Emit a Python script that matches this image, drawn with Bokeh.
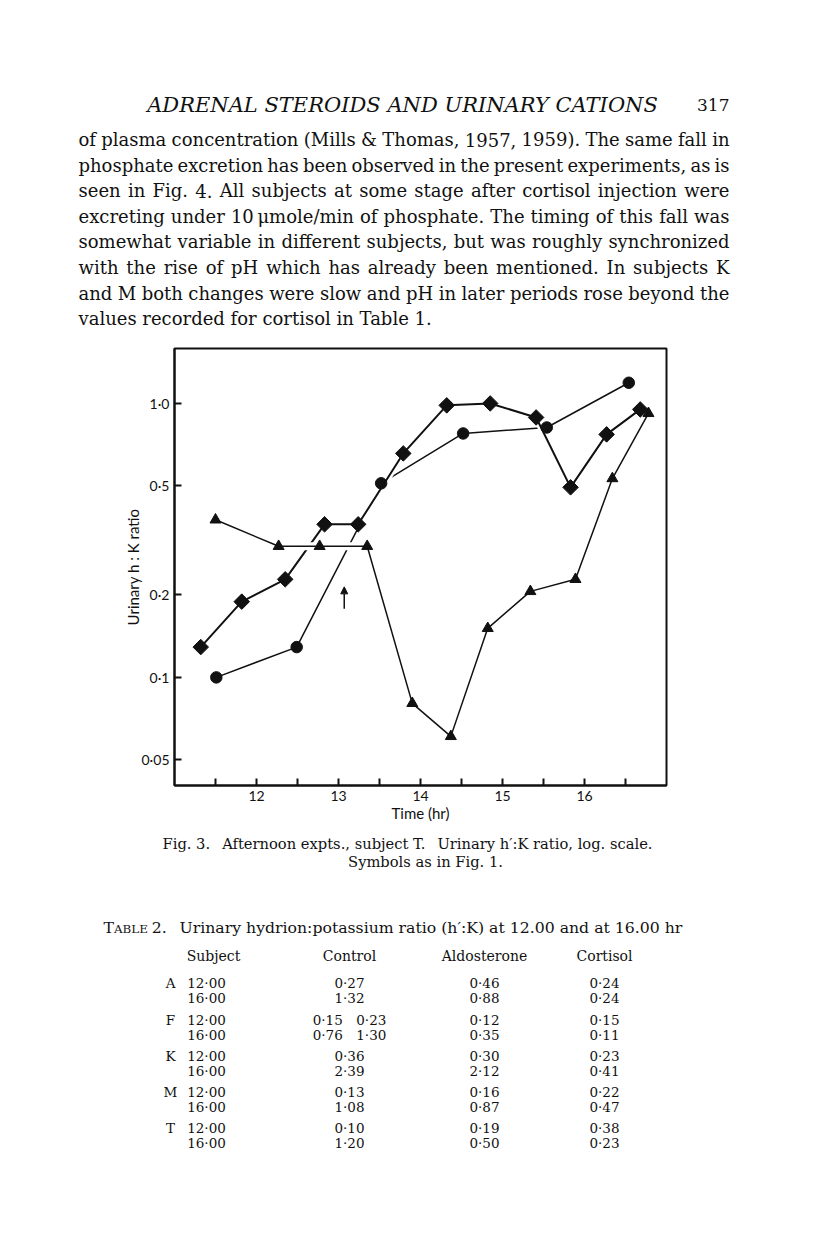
import math
from bokeh.plotting import figure
from bokeh.layouts import column
from bokeh.models import (Range1d, FixedTicker, Label, LabelSet, ColumnDataSource,
                          Arrow, NormalHead)
from bokeh.core.properties import value
from bokeh.embed import file_html
from bokeh.resources import INLINE

# ---------------- data ----------------
control_time = [11.51, 12.49, 13.52, 14.52, 15.54, 16.54]
control_ratio = [0.10, 0.129, 0.511, 0.777, 0.817, 1.19]

aldo_time = [11.32, 11.82, 12.35, 12.83, 13.24, 13.79, 14.32, 14.85, 15.41, 15.83, 16.27, 16.68]
aldo_ratio = [0.129, 0.189, 0.228, 0.362, 0.362, 0.657, 0.984, 1.0, 0.889, 0.494, 0.771, 0.951]

cort_time = [11.50, 12.27, 12.77, 13.35, 13.90, 14.37, 14.82, 15.34, 15.89, 16.34, 16.78]
cort_ratio = [0.376, 0.301, 0.301, 0.301, 0.0804, 0.0609, 0.151, 0.206, 0.228, 0.532, 0.92]

arrow_time = 13.07
arrow_ratio = [0.178, 0.214]

x_ticks = [11.5, 12, 12.5, 13, 13.5, 14, 14.5, 15, 15.5, 16, 16.5]
x_tick_labels = ["", "12", "", "13", "", "14", "", "15", "", "16", ""]
y_ticks = [0.05, 0.1, 0.2, 0.5, 1]
y_tick_labels = ["0·05", "0·1", "0·2", "0·5", "1·0"]

header_title = "ADRENAL STEROIDS AND URINARY CATIONS"
page_number = "317"
paragraph = [
    "of plasma concentration (Mills & Thomas, 1957, 1959). The same fall in",
    "phosphate excretion has been observed in the present experiments, as is",
    "seen in Fig. 4. All subjects at some stage after cortisol injection were",
    "excreting under 10\u2009μmole/min of phosphate. The timing of this fall was",
    "somewhat variable in different subjects, but was roughly synchronized",
    "with the rise of pH which has already been mentioned. In subjects K",
    "and M both changes were slow and pH in later periods rose beyond the",
    "values recorded for cortisol in Table 1.",
]
caption = ["Fig. 3.\u2002 Afternoon expts., subject T.\u2002 Urinary h\u2032:K ratio, log. scale.",
           "Symbols as in Fig. 1."]
table_title_rest = "2.\u2002 Urinary hydrion:potassium ratio (h\u2032:K) at 12.00 and at 16.00 hr"
table_headers = ["Subject", "Control", "Aldosterone", "Cortisol"]
subjects = ["A", "F", "K", "M", "T"]
times = ["12·00", "16·00"]
control_12 = ["0·27", "0·15\u20030·23", "0·36", "0·13", "0·10"]
control_16 = ["1·32", "0·76\u20031·30", "2·39", "1·08", "1·20"]
aldo_12 = ["0·46", "0·12", "0·30", "0·16", "0·19"]
aldo_16 = ["0·88", "0·35", "2·12", "0·87", "0·50"]
cort_12 = ["0·24", "0·15", "0·23", "0·22", "0·38"]
cort_16 = ["0·24", "0·11", "0·41", "0·47", "0·23"]

# ---------------- layout / style ----------------
INK = "#111111"
SERIF = "DejaVu Serif"
SANS = "Lato"
PAGE_W, PAGE_H = 816, 1258
FRAME_L, FRAME_R, FRAME_T, FRAME_B = 174, 666, 348, 785
TOP_H = 340          # text block above the chart
CHART_H = 490        # chart figure (page y 340 .. 830)
BOT_H = PAGE_H - TOP_H - CHART_H
TEXT_L, TEXT_R = 78, 729

# text width measurement (for justification / fitting)
try:
    from PIL import ImageFont
    _fonts = {False: ImageFont.truetype("DejaVuSerif.ttf", 100),
              True: ImageFont.truetype("DejaVuSerif-Italic.ttf", 100)}

    def measure(s, size, italic=False):
        return _fonts[italic].getlength(s) * size / 100.0
except Exception:
    def measure(s, size, italic=False):
        return 0.56 * size * len(s)


def text_figure(h):
    f = figure(width=PAGE_W, height=h, x_range=Range1d(0, PAGE_W), y_range=Range1d(-h, 0),
               output_backend="svg", toolbar_location=None,
               x_axis_location=None, y_axis_location=None,
               min_border=0, min_border_left=0, min_border_right=0,
               min_border_top=0, min_border_bottom=0)
    f.frame_align = False
    f.xgrid.visible = False
    f.ygrid.visible = False
    f.outline_line_color = None
    f.background_fill_color = "white"
    f.border_fill_color = "white"
    return f


def lab(f, offset, text, x, y, size, font=SERIF, align="left", style="normal",
        baseline="middle"):
    f.add_layout(Label(x=x, y=-(y - offset), text=text,
                       text_font=font, text_font_size=f"{size:.2f}px",
                       text_font_style=style, text_color=INK, text_align=align,
                       text_baseline=baseline))


# ---- top block: running head + justified paragraph ----
top = text_figure(TOP_H)
head_size = min(21.0, 17.0 * 511 / max(measure(header_title, 17, True), 1))
lab(top, 0, header_title, 402, 104, head_size, align="center", style="italic")
lab(top, 0, page_number, TEXT_R, 104, 17, align="right")

PARA_SIZE = 18
for i, line in enumerate(paragraph):
    y = 139 + 25.6 * i
    words = line.split(" ")
    size = PARA_SIZE
    widths = [measure(w, size) for w in words]
    if i == len(paragraph) - 1 or len(words) < 2:
        lab(top, 0, line, TEXT_L, y, size)
        continue
    gap = (TEXT_R - TEXT_L - sum(widths)) / (len(words) - 1)
    if gap < 3:  # shrink the line slightly if it would not fit
        size = PARA_SIZE * (TEXT_R - TEXT_L - 4 * (len(words) - 1)) / max(sum(widths), 1)
        widths = [measure(w, size) for w in words]
        gap = (TEXT_R - TEXT_L - sum(widths)) / (len(words) - 1)
    x = TEXT_L
    for w, wd in zip(words, widths):
        lab(top, 0, w, x, y, size)
        x += wd + gap

# ---- chart ----
p = figure(width=PAGE_W, height=CHART_H, y_axis_type="log",
           x_range=Range1d(11.0, 17.0), y_range=Range1d(0.0403, 1.587),
           output_backend="svg", toolbar_location=None,
           min_border_left=FRAME_L, min_border_right=PAGE_W - FRAME_R,
           min_border_top=FRAME_T - TOP_H,
           min_border_bottom=TOP_H + CHART_H - FRAME_B)
p.frame_align = False
p.xgrid.visible = False
p.ygrid.visible = False
p.outline_line_color = INK
p.outline_line_width = 2
p.background_fill_color = "white"
p.border_fill_color = "white"

for ax in (p.xaxis[0], p.yaxis[0]):
    ax.axis_line_color = INK
    ax.axis_line_width = 2
    ax.major_tick_line_color = INK
    ax.major_tick_line_width = 2
    ax.major_tick_in = 7
    ax.major_tick_out = 0
    ax.minor_tick_line_color = None
    ax.major_label_text_font = SANS
    ax.major_label_text_font_size = "14px"
    ax.major_label_text_color = INK
    ax.axis_label_text_font = SANS
    ax.axis_label_text_font_size = "15px"
    ax.axis_label_text_font_style = "normal"
    ax.axis_label_text_color = INK

p.xaxis.ticker = FixedTicker(ticks=x_ticks)
p.xaxis.major_label_overrides = {t: l for t, l in zip(x_ticks, x_tick_labels)}
p.xaxis.major_label_standoff = 5
p.xaxis.axis_label = "Time (hr)"
p.xaxis.axis_label_standoff = 0
p.yaxis.ticker = FixedTicker(ticks=y_ticks)
p.yaxis.major_label_overrides = {t: l for t, l in zip(y_ticks, y_tick_labels)}
p.yaxis.major_label_standoff = 5
p.yaxis.axis_label = "Urinary h : K ratio"
p.yaxis.axis_label_standoff = -3

# lines (white casings give the printed "crossing gaps")
p.line(control_time, control_ratio, line_color=INK, line_width=1.5)
p.line(aldo_time, aldo_ratio, line_color="white", line_width=7)
p.line(aldo_time, aldo_ratio, line_color=INK, line_width=2)
p.line(cort_time, cort_ratio, line_color="white", line_width=8)
p.line(cort_time, cort_ratio, line_color=INK, line_width=1.5)

p.scatter(control_time, control_ratio, marker="circle", size=11.5,
          fill_color=INK, line_color=INK)
p.scatter(aldo_time, aldo_ratio, marker="square", angle=math.pi / 4, size=11,
          fill_color=INK, line_color=INK)
p.scatter(cort_time, cort_ratio, marker="triangle", size=11,
          fill_color=INK, line_color=INK)

p.add_layout(Arrow(end=NormalHead(size=7, fill_color=INK, line_color=INK),
                   x_start=arrow_time, y_start=arrow_ratio[0],
                   x_end=arrow_time, y_end=arrow_ratio[1],
                   line_color=INK, line_width=1.5))

# ---- bottom block: caption + table ----
OFF = TOP_H + CHART_H
bot = text_figure(BOT_H)
cap_size = min(16.0, 13.0 * 490 / max(measure(caption[0], 13), 1))
lab(bot, OFF, caption[0], 407, 843, cap_size, align="center")
lab(bot, OFF, caption[1], 425, 861, cap_size, align="center")

# table title with small-capital "Table"
T_SIZE, SC_SIZE = 14.5, 11.0
title_total = (measure("T", T_SIZE) + measure("ABLE ", SC_SIZE)
               + measure(table_title_rest, T_SIZE))
scale = (682 - 103) / max(title_total, 1)
T_SIZE *= min(scale, 1.15)
SC_SIZE *= min(scale, 1.15)
x0 = 103
lab(bot, OFF, "T", x0, 927, T_SIZE)
x0 += measure("T", T_SIZE)
lab(bot, OFF, "ABLE", x0, 928, SC_SIZE)
x0 += measure("ABLE ", SC_SIZE)
lab(bot, OFF, table_title_rest, x0, 927, T_SIZE)

col_x = [213, 349, 484, 604]
for h, cx in zip(table_headers, col_x):
    lab(bot, OFF, h, cx, 955, 14, align="center")

row_y = [[982, 997], [1019, 1034], [1055, 1070], [1091, 1106], [1127, 1142]]
ys12 = [-(r[0] - OFF) for r in row_y]
ys16 = [-(r[1] - OFF) for r in row_y]

src = ColumnDataSource(dict(
    letter=subjects, t12=[times[0]] * 5, t16=[times[1]] * 5,
    c12=control_12, c16=control_16, a12=aldo_12, a16=aldo_16,
    k12=cort_12, k16=cort_16, y12=ys12, y16=ys16,
    xl=[170] * 5, xt=[206] * 5, xc=[col_x[1]] * 5, xa=[col_x[2]] * 5, xk=[col_x[3]] * 5,
))


def labelset(xcol, ycol, tcol):
    bot.add_layout(LabelSet(x=xcol, y=ycol, text=tcol, source=src,
                            text_font=value(SERIF), text_font_size="13.5px",
                            text_color=INK, text_align="center", text_baseline="middle"))


for xc, pairs in [("xl", [("y12", "letter")]),
                  ("xt", [("y12", "t12"), ("y16", "t16")]),
                  ("xc", [("y12", "c12"), ("y16", "c16")]),
                  ("xa", [("y12", "a12"), ("y16", "a16")]),
                  ("xk", [("y12", "k12"), ("y16", "k16")])]:
    for yc, tc in pairs:
        labelset(xc, yc, tc)

page = column(top, p, bot, spacing=0)
open("out.html", "w").write(file_html(page, INLINE))
